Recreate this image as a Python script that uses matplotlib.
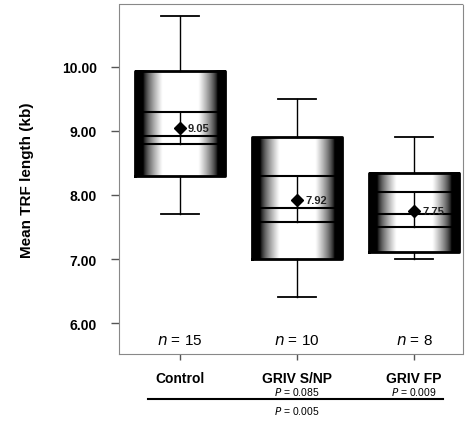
import numpy as np
import matplotlib
matplotlib.use('Agg')
import matplotlib.pyplot as plt

# data
groups = ['Control', 'GRIV S/NP', 'GRIV FP']
n_counts = [15, 10, 8]
whisker_low = [7.70, 6.41, 7.00]
box_low = [8.30, 7.00, 7.11]
box_high = [9.94, 8.90, 8.35]
whisker_high = [10.80, 9.50, 8.90]
inner_low = [8.80, 7.58, 7.50]
inner_mid = [8.92, 7.80, 7.70]
inner_high = [9.30, 8.30, 8.04]
means = [9.05, 7.92, 7.75]
mean_labels = ['9.05', '7.92', '7.75']
p_values = ['', 'P = 0.085', 'P = 0.009']
p_overall = 'P = 0.005'

plt.rcParams['font.family'] = ['Liberation Sans', 'DejaVu Sans']

fig = plt.figure(figsize=(4.65, 4.27), dpi=100)
ax = fig.add_axes([0.256, 0.169, 0.74, 0.819])

x = np.arange(len(groups))
half = 0.385

# shading: dark edges, white middle
t = np.linspace(-1, 1, 200)
shade = np.clip((0.82 - np.abs(t)) / 0.42, 0, 1) ** 0.7
shade = np.tile(shade, (2, 1))

for i in range(len(groups)):
    ax.imshow(shade, cmap='gray', vmin=0, vmax=1, aspect='auto',
              extent=[x[i] - half, x[i] + half, box_low[i], box_high[i]],
              zorder=2, interpolation='bilinear')
    ax.plot([x[i] - half, x[i] + half, x[i] + half, x[i] - half, x[i] - half],
            [box_low[i], box_low[i], box_high[i], box_high[i], box_low[i]],
            color='black', lw=2, zorder=3)
    # whiskers
    ax.plot([x[i], x[i]], [box_high[i], whisker_high[i]], color='black', lw=1, zorder=3)
    ax.plot([x[i], x[i]], [box_low[i], whisker_low[i]], color='black', lw=1, zorder=3)
    ax.plot([x[i] - 0.16, x[i] + 0.16], [whisker_high[i]] * 2, color='black', lw=1.3, zorder=3)
    ax.plot([x[i] - 0.16, x[i] + 0.16], [whisker_low[i]] * 2, color='black', lw=1.3, zorder=3)
    # inner lines
    for yv in (inner_low[i], inner_mid[i], inner_high[i]):
        ax.plot([x[i] - half * 0.95, x[i] + half * 0.95], [yv, yv], color='black', lw=1.5, zorder=4)
    ax.plot([x[i], x[i]], [inner_low[i], inner_high[i]], color='black', lw=1, zorder=4)
    ax.plot(x[i], means[i], marker='D', color='black', ms=6.5, zorder=5)
    ax.text(x[i] + 0.07, means[i], mean_labels[i], fontsize=8, fontweight='bold',
            va='center', ha='left', zorder=6, color='#222222')
    ax.text(x[i], 5.73, '$n$ = %d' % n_counts[i], fontsize=11, ha='center', va='center')

ax.set_xlim(-0.52, 2.42)
ax.set_ylim(5.52, 10.98)
ax.set_yticks([6, 7, 8, 9, 10])
ax.set_yticklabels(['%.2f' % v for v in [6, 7, 8, 9, 10]], fontsize=10, fontweight='bold')
ax.set_xticks(x)
ax.set_xticklabels(groups, fontsize=10, fontweight='bold')
ax.tick_params(axis='y', length=6, width=1, color='#555555', pad=10)
ax.tick_params(axis='x', length=4, width=1, color='#555555', pad=8)
ax.set_ylabel('Mean TRF length (kb)', fontsize=11, fontweight='bold', labelpad=20)
for sp in ax.spines.values():
    sp.set_color('#888888')
    sp.set_linewidth(0.8)
    sp.set_linestyle((0, (4, 1)))

# p-values below the axis
for i in range(len(groups)):
    if p_values[i]:
        ax.text(x[i], -0.105, p_values[i].replace('P', '$P$'), transform=ax.get_xaxis_transform(),
                fontsize=7.5, ha='center', va='center')
ax.plot([-0.27, 2.25], [-0.13, -0.13], transform=ax.get_xaxis_transform(),
        color='black', lw=1.5, clip_on=False)
ax.text(1, -0.16, p_overall.replace('P', '$P$'), transform=ax.get_xaxis_transform(),
        fontsize=7.5, ha='center', va='center')

fig.savefig('out.png', dpi=100)
